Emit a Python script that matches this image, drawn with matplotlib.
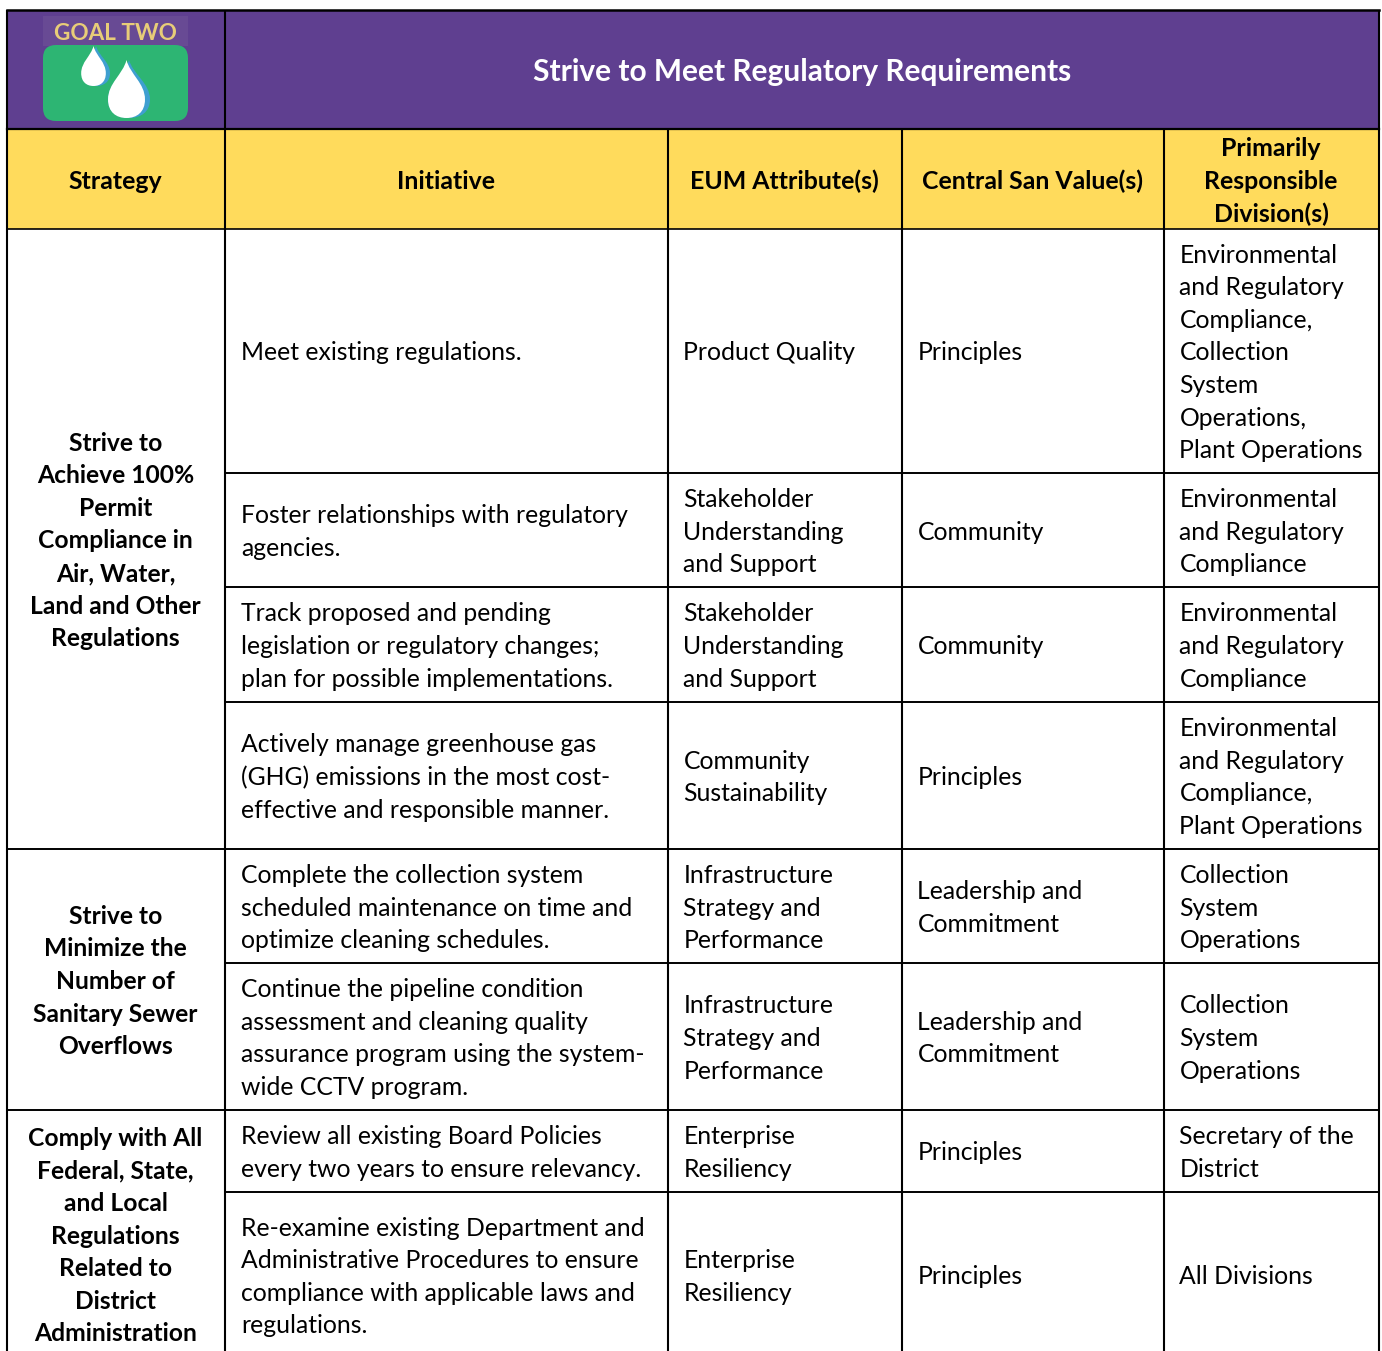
import matplotlib.pyplot as plt
from matplotlib.patches import Rectangle, FancyBboxPatch, PathPatch
from matplotlib.path import Path

plt.rcParams['font.family'] = ['Lato', 'DejaVu Sans']

title = "Strive to Meet Regulatory Requirements"
logo_text = "GOAL TWO"
headers = ["Strategy", "Initiative", "EUM Attribute(s)", "Central San Value(s)",
           "Primarily\nResponsible\nDivision(s)"]

strategies = [
    "Strive to\nAchieve 100%\nPermit\nCompliance in\nAir, Water,\nLand and Other\nRegulations",
    "Strive to\nMinimize the\nNumber of\nSanitary Sewer\nOverflows",
    "Comply with All\nFederal, State,\nand Local\nRegulations\nRelated to\nDistrict\nAdministration",
]
strategy_rows = [(0, 4), (4, 6), (6, 8)]

initiatives = [
    "Meet existing regulations.",
    "Foster relationships with regulatory\nagencies.",
    "Track proposed and pending\nlegislation or regulatory changes;\nplan for possible implementations.",
    "Actively manage greenhouse gas\n(GHG) emissions in the most cost-\neffective and responsible manner.",
    "Complete the collection system\nscheduled maintenance on time and\noptimize cleaning schedules.",
    "Continue the pipeline condition\nassessment and cleaning quality\nassurance program using the system-\nwide CCTV program.",
    "Review all existing Board Policies\nevery two years to ensure relevancy.",
    "Re-examine existing Department and\nAdministrative Procedures to ensure\ncompliance with applicable laws and\nregulations.",
]
attributes = [
    "Product Quality",
    "Stakeholder\nUnderstanding\nand Support",
    "Stakeholder\nUnderstanding\nand Support",
    "Community\nSustainability",
    "Infrastructure\nStrategy and\nPerformance",
    "Infrastructure\nStrategy and\nPerformance",
    "Enterprise\nResiliency",
    "Enterprise\nResiliency",
]
values = [
    "Principles", "Community", "Community", "Principles",
    "Leadership and\nCommitment", "Leadership and\nCommitment",
    "Principles", "Principles",
]
divisions = [
    "Environmental\nand Regulatory\nCompliance,\nCollection\nSystem\nOperations,\nPlant Operations",
    "Environmental\nand Regulatory\nCompliance",
    "Environmental\nand Regulatory\nCompliance",
    "Environmental\nand Regulatory\nCompliance,\nPlant Operations",
    "Collection\nSystem\nOperations",
    "Collection\nSystem\nOperations",
    "Secretary of the\nDistrict",
    "All Divisions",
]

# table grid in pixels
col_x = [7, 225, 668, 902, 1164, 1379]
row_y = [229, 473, 587, 702, 849, 963, 1110, 1192, 1358]
top, head_y = 10, 129

PURPLE = '#5f3f90'
YELLOW = '#ffdb5c'
FS = 17.85
FS_HEAD = 17.95
FS_STRAT = 17.75
PITCH = 32.6

fig = plt.figure(figsize=(13.82, 13.51), dpi=100)
ax = fig.add_axes([0, 0, 1, 1])
ax.set_xlim(0, 1382)
ax.set_ylim(1351, 0)
ax.axis('off')


def put_text(x, y, txt, ha='left', weight='normal', color='black', size=FS, pitch=PITCH):
    # one text per line so the line pitch stays exact
    lines = txt.split('\n')
    y0 = y - pitch * (len(lines) - 1) / 2
    for i, line in enumerate(lines):
        ax.text(x, y0 + i * pitch + 9.5, line, ha=ha, va='baseline', fontweight=weight,
                color=color, fontsize=size, clip_on=True)


# backgrounds
ax.add_patch(Rectangle((col_x[0], top), col_x[-1] - col_x[0], head_y - top, fc=PURPLE, ec='none'))
ax.add_patch(Rectangle((col_x[0], head_y), col_x[-1] - col_x[0], row_y[0] - head_y, fc=YELLOW, ec='none'))

# logo
ax.add_patch(Rectangle((43, 16), 145, 30, fc='#684a94', ec='none'))
ax.add_patch(FancyBboxPatch((43, 45), 145, 76, boxstyle='round,pad=0,rounding_size=13', fc='#2db573', ec='none'))
ax.text(115, 40, logo_text, ha='center', va='baseline', fontsize=16.2, fontweight='bold', color='#e8cd78')


def drop(cx, tip, bottom, hw):
    h = bottom - tip
    verts = [(cx, tip), (cx + hw * 0.2, tip + h * 0.25), (cx + hw, tip + h * 0.4), (cx + hw, tip + h * 0.68),
             (cx + hw, bottom - h * 0.1), (cx + hw * 0.55, bottom), (cx, bottom),
             (cx - hw * 0.55, bottom), (cx - hw, bottom - h * 0.1), (cx - hw, tip + h * 0.68),
             (cx - hw, tip + h * 0.4), (cx - hw * 0.2, tip + h * 0.25), (cx, tip)]
    codes = [Path.MOVETO] + [Path.CURVE4] * 12
    ax.add_patch(PathPatch(Path(verts, codes), fc='#3f9fd0', ec='none'))
    inner = [(cx - 2.5 + (x - cx) * 0.88, y) for x, y in verts]
    ax.add_patch(PathPatch(Path(inner, codes), fc='white', ec='none'))


drop(96, 46, 86, 14)
drop(129, 60, 118, 21)

# header text
put_text((col_x[1] + col_x[-1]) / 2, 71.5, title, ha='center', weight='bold', color='white', size=21.5)
for i, h in enumerate(headers):
    put_text((col_x[i] + col_x[i + 1]) / 2 - 0.5, 179.5, h, ha='center', weight='bold', size=FS_HEAD)

# strategy column
for txt, (r0, r1) in zip(strategies, strategy_rows):
    put_text((col_x[0] + col_x[1]) / 2 - 0.5, (row_y[r0] + row_y[r1]) / 2, txt, ha='center', weight='bold',
             size=FS_STRAT)

# body rows
for r in range(len(initiatives)):
    yc = (row_y[r] + row_y[r + 1]) / 2
    put_text(col_x[1] + 16, yc, initiatives[r])
    put_text(col_x[2] + 15.5, yc, attributes[r])
    put_text(col_x[3] + 15.5, yc, values[r])
    put_text(col_x[4] + 15.5, yc, divisions[r])

# grid lines
for x in [col_x[0], col_x[1], col_x[-1]]:
    ax.plot([x, x], [top, 1358], color='black', lw=1.5, solid_capstyle='butt')
for x in col_x[2:-1]:
    ax.plot([x, x], [head_y, 1358], color='black', lw=1.5, solid_capstyle='butt')
ax.plot([col_x[0], col_x[-1]], [top, top], color='black', lw=1.8, solid_capstyle='projecting')
ax.plot([col_x[0], col_x[-1]], [head_y, head_y], color='black', lw=1.6)
ax.plot([col_x[0], col_x[-1]], [row_y[0], row_y[0]], color='black', lw=1.2)
for r in range(1, len(row_y) - 1):
    x0 = col_x[0] if r in (4, 6) else col_x[1]
    ax.plot([x0, col_x[-1]], [row_y[r], row_y[r]], color='black', lw=1.4)

fig.savefig('out.png', dpi=100)
